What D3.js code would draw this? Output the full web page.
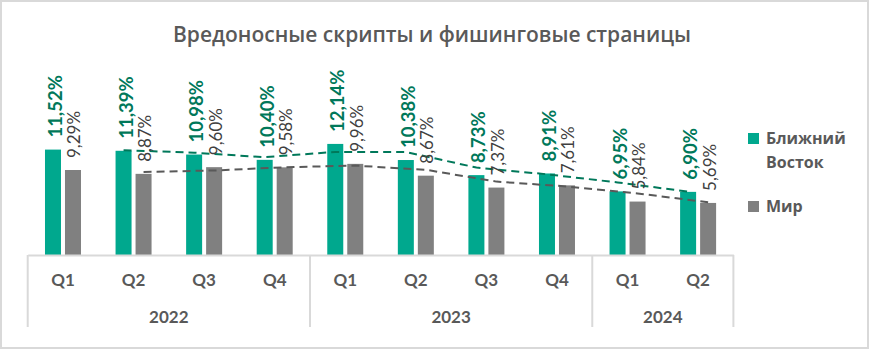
<!DOCTYPE html>
<html>
<head>
<meta charset="utf-8">
<script src="https://cdn.jsdelivr.net/npm/d3@7/dist/d3.min.js"></script>
<style>
  html, body { margin: 0; padding: 0; background: #fff; }
  svg { display: block; }
</style>
</head>
<body>
<svg id="chart" width="869" height="349"></svg>
<script>
// Quarterly share of users hit by malicious scripts and phishing pages
const quarters = ["Q1", "Q2", "Q3", "Q4", "Q1", "Q2", "Q3", "Q4", "Q1", "Q2"];
const years = ["2022", "2023", "2024"];
const quartersPerYear = [4, 4, 2];
const middleEast = [11.52, 11.39, 10.98, 10.40, 12.14, 10.38, 8.73, 8.91, 6.95, 6.90];
const world = [9.29, 8.87, 9.60, 9.58, 9.96, 8.67, 7.37, 7.61, 5.84, 5.69];
const seriesNames = ["Ближний Восток", "Мир"];

const colors = { me: "#00A88E", world: "#808080" };
const labelColors = { me: "#00785A", world: "#404040" };
const trendColors = { me: "#00785A", world: "#595959" };
const axisColor = "#D9D9D9";
const textColor = "#595959";

const svg = d3.select("#chart");
const W = 869, H = 349;

// outer frame
svg.append("rect")
  .attr("x", 1).attr("y", 1).attr("width", W - 2).attr("height", H - 2)
  .attr("fill", "#fff").attr("stroke", axisColor).attr("stroke-width", 2);

// title
svg.append("text")
  .attr("x", 432).attr("y", 42)
  .attr("text-anchor", "middle")
  .attr("font-family", "'Open Sans', sans-serif")
  .attr("font-weight", 600)
  .attr("font-size", 21)
  .attr("fill", textColor)
  .text("Вредоносные скрипты и фишинговые страницы");

const plot = { left: 27.7, right: 733.4, base: 255 };

const x = d3.scaleBand()
  .domain(d3.range(quarters.length))
  .range([plot.left, plot.right])
  .padding(0);

const xInner = d3.scaleBand()
  .domain(["me", "world"])
  .range([-18, 18])
  .paddingInner(0.2)
  .paddingOuter(0);

const y = d3.scaleLinear()
  .domain([0, 14])
  .range([plot.base, plot.base - 14 * 9.15]);

const series = [
  { key: "me", values: middleEast },
  { key: "world", values: world }
];

const fmt = v => d3.format(".2f")(v).replace(".", ",") + "%";

// bars
series.forEach(s => {
  svg.append("g").selectAll("rect")
    .data(s.values)
    .join("rect")
    .attr("x", (d, i) => x(i) + x.bandwidth() / 2 + xInner(s.key))
    .attr("width", xInner.bandwidth())
    .attr("y", d => y(d))
    .attr("height", d => y(0) - y(d))
    .attr("fill", colors[s.key]);
});

// moving-average trend lines (period 2), drawn at each series' bar centre
series.forEach(s => {
  const pts = s.values.map((v, i) => i === 0 ? null : [i, (v + s.values[i - 1]) / 2]).filter(p => p);
  const line = d3.line()
    .x(p => x(p[0]) + x.bandwidth() / 2 + xInner(s.key) + xInner.bandwidth() / 2)
    .y(p => y(p[1]));
  svg.append("path")
    .datum(pts)
    .attr("d", line)
    .attr("fill", "none")
    .attr("stroke", trendColors[s.key])
    .attr("stroke-width", 2)
    .attr("stroke-dasharray", "8,5");
});

// value labels, rotated
const labelStyle = {
  me: { weight: 700, size: 18.5, dx: 9 },
  world: { weight: 400, size: 17, dx: 7.5 }
};
series.forEach(s => {
  const st = labelStyle[s.key];
  svg.append("g").selectAll("text")
    .data(s.values)
    .join("text")
    .attr("transform", (d, i) => {
      const cx = x(i) + x.bandwidth() / 2 + xInner(s.key) + xInner.bandwidth() / 2 + st.dx;
      return `translate(${cx},${y(d) - 12}) rotate(-90)`;
    })
    .attr("text-anchor", "start")
    .attr("font-family", "Lato, 'Open Sans', sans-serif")
    .attr("font-weight", st.weight)
    .attr("font-size", st.size)
    .attr("fill", labelColors[s.key])
    .text(d => fmt(d));
});

// category axis: quarters
const xAxis = d3.axisBottom(x)
  .tickFormat(i => quarters[i])
  .tickSize(0)
  .tickSizeOuter(0)
  .tickPadding(19);
const gx = svg.append("g")
  .attr("transform", `translate(0,${plot.base})`)
  .call(xAxis);
gx.select(".domain").attr("stroke", axisColor).attr("stroke-width", 2);
gx.selectAll(".tick text")
  .attr("font-family", "Lato, sans-serif")
  .attr("font-weight", 700)
  .attr("font-size", 17)
  .attr("fill", textColor);

// year groups with dividers
let start = 0;
const bounds = [0];
years.forEach((yr, k) => {
  const end = start + quartersPerYear[k];
  bounds.push(end);
  const x0 = x(start), x1 = end < quarters.length ? x(end) : plot.right;
  svg.append("text")
    .attr("x", (x0 + x1) / 2)
    .attr("y", 323)
    .attr("text-anchor", "middle")
    .attr("font-family", "Lato, sans-serif")
    .attr("font-weight", 700)
    .attr("font-size", 17)
    .attr("fill", textColor)
    .text(yr);
  start = end;
});
svg.append("g").selectAll("line")
  .data(bounds)
  .join("line")
  .attr("x1", b => b < quarters.length ? x(b) : plot.right)
  .attr("x2", b => b < quarters.length ? x(b) : plot.right)
  .attr("y1", plot.base)
  .attr("y2", 327)
  .attr("stroke", axisColor)
  .attr("stroke-width", 2);

// legend
const legend = svg.append("g").attr("font-family", "'Open Sans', sans-serif")
  .attr("font-weight", 700).attr("font-size", 16).attr("fill", textColor);
const legendItems = [
  { key: "me", lines: ["Ближний", "Восток"], y: 133 },
  { key: "world", lines: ["Мир"], y: 201 }
];
legendItems.forEach(it => {
  legend.append("rect")
    .attr("x", 748).attr("y", it.y).attr("width", 11).attr("height", 11)
    .attr("fill", colors[it.key]);
  it.lines.forEach((ln, j) => {
    legend.append("text")
      .attr("x", 766).attr("y", it.y + 11 + j * 24)
      .text(ln);
  });
});
</script>
</body>
</html>
